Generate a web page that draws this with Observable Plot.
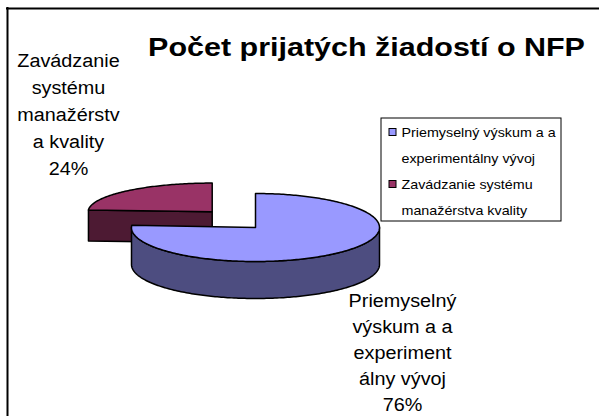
<!DOCTYPE html>
<html><head><meta charset="utf-8">
<script src="https://cdn.jsdelivr.net/npm/d3@7"></script>
<script src="https://cdn.jsdelivr.net/npm/@observablehq/plot@0.6"></script>
<style>html,body{margin:0;padding:0;background:#fff;overflow:hidden}</style>
</head><body><div id="chart"></div>
<script>
// ---- data ----
const title = "Počet prijatých žiadostí o NFP";
const categories = ["Priemyselný výskum a a experimentálny vývoj", "Zavádzanie systému manažérstva kvality"];
const values = [76, 24];
const legendLines = [["Priemyselný výskum a a", "experimentálny vývoj"], ["Zavádzanie systému", "manažérstva kvality"]];
const dataLabelLines = [["Priemyselný", "výskum a a", "experiment", "álny vývoj"], ["Zavádzanie", "systému", "manažérstv", "a kvality"]];
const topColors = ["#9999FF", "#993366"];
const sideColors = ["#4D4D80", "#4D1A33"];
const explode = [0, 0.51];

// ---- layout ----
const W = 599, H = 416;
const cx = 255, cy = 227, rx = 124, ry = 34, depth = 37;
const FONT = "'Liberation Sans', Arial, Helvetica, sans-serif";
const labelAnchors = [[402, 306, 26], [68, 66, 27]]; // x, first baseline, line step
const stretch = {"26.5": 1.15, "18": 1.1, "13": 1.1};

const total = d3.sum(values);
let acc = 0;
const slices = values.map((v, i) => {
  const a0 = acc / total * 360; acc += v; const a1 = acc / total * 360;
  const mid = (a0 + a1) / 2 * Math.PI / 180;
  const oy = -explode[i] * ry * Math.cos(mid) * 1.25;
  const vs = 1 + 0.01 * oy; // simple perspective: farther pieces look flatter
  return {i, a0, a1, ccx: cx + explode[i] * rx * Math.sin(mid), ccy: cy + oy, ry: ry * vs, dz: depth * vs};
});
const pt = (s, deg, dz = 0) => { const r = deg * Math.PI / 180; return [s.ccx + rx * Math.sin(r), s.ccy - s.ry * Math.cos(r) + dz]; };
const arc = (s, b0, b1, dz = 0) => { const n = Math.max(2, Math.ceil(b1 - b0)); return d3.range(n + 1).map(k => pt(s, b0 + (b1 - b0) * k / n, dz)); };

const polys = [];
for (const s of [...slices].sort((a, b) => a.ccy - b.ccy)) {
  const c = [s.ccx, s.ccy], cd = [s.ccx, s.ccy + s.dz];
  const sinA0 = Math.sin(s.a0 * Math.PI / 180), sinA1 = Math.sin(s.a1 * Math.PI / 180);
  if (sinA0 < -1e-6) polys.push({pts: [c, pt(s, s.a0), pt(s, s.a0, s.dz), cd], fill: sideColors[s.i]});
  if (sinA1 > 1e-6) polys.push({pts: [c, pt(s, s.a1), pt(s, s.a1, s.dz), cd], fill: sideColors[s.i]});
  const b0 = Math.max(s.a0, 90), b1 = Math.min(s.a1, 270);
  if (b1 > b0) polys.push({pts: arc(s, b0, b1).concat(arc(s, b0, b1, s.dz).reverse()), fill: sideColors[s.i]});
  polys.push({pts: [c].concat(arc(s, s.a0, s.a1)), fill: topColors[s.i]});
}

const dataLabels = [];
dataLabelLines.forEach((lines, i) => {
  lines.concat([values[i] + "%"]).forEach((t, k) => dataLabels.push({t, x: labelAnchors[i][0], y: labelAnchors[i][1] + k * labelAnchors[i][2]}));
});
const legendText = [];
legendLines.forEach((lines, i) => lines.forEach((t, k) => legendText.push({t, x: 401, y: 132 + i * 52 + k * 26})));
const legendKeys = categories.map((c, i) => ({c, fill: topColors[i], y: 132 + i * 52}));

const svg = Plot.plot({
  width: W, height: H, margin: 0,
  x: {domain: [0, W], range: [0, W], axis: null},
  y: {domain: [0, H], range: [0, H], axis: null},
  style: {background: "white"},
  marks: [
    Plot.ruleX([7], {y1: 7, y2: H, stroke: "black", strokeWidth: 2}),
    Plot.ruleY([8], {x1: 6, x2: W, stroke: "black", strokeWidth: 2}),
    ...polys.map(p => Plot.line(p.pts, {x: d => d[0], y: d => d[1], curve: "linear-closed", fill: p.fill, stroke: "black", strokeWidth: 1.5, strokeLinejoin: "round"})),
    Plot.text([title], {x: 366, y: 55, text: d => d, fontFamily: FONT, fontSize: 26.5, fontWeight: "bold", fill: "black", lineAnchor: "bottom"}),
    Plot.text(dataLabels, {x: "x", y: "y", text: "t", fontFamily: FONT, fontSize: 18, fill: "black", lineAnchor: "bottom"}),
    Plot.rect([0], {x1: 381, x2: 561, y1: 118, y2: 221, fill: "white", stroke: "black", strokeWidth: 1}),
    Plot.rect(legendKeys, {x1: 389, x2: 396, y1: d => d.y - 3.5, y2: d => d.y + 3.5, fill: "fill", stroke: "black", strokeWidth: 1}),
    Plot.text(legendText, {x: "x", y: "y", text: "t", fontFamily: FONT, fontSize: 13, fill: "black", textAnchor: "start", lineAnchor: "middle"})
  ],
  color: {type: "identity"}
});
document.getElementById("chart").append(svg);
svg.querySelectorAll('g[aria-label="text"]').forEach(g => {
  const k = stretch[g.getAttribute("font-size")] || 1;
  g.querySelectorAll("text").forEach(t => {
    const L = t.getComputedTextLength();
    t.setAttribute("textLength", (L * k).toFixed(2));
    t.setAttribute("lengthAdjust", "spacingAndGlyphs");
  });
});
</script></body></html>
